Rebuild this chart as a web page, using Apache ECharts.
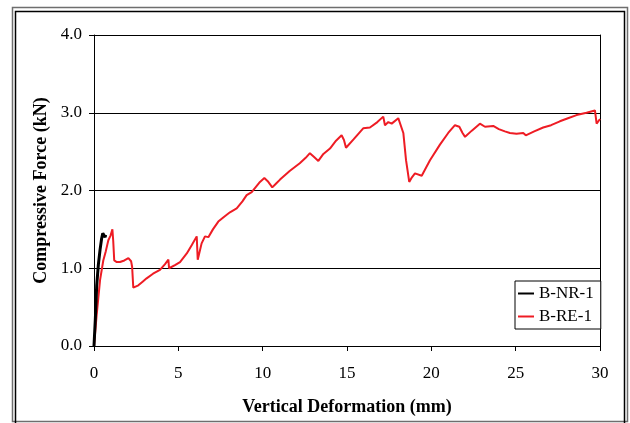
<!DOCTYPE html>
<html>
<head>
<meta charset="utf-8">
<script src="https://cdn.jsdelivr.net/npm/echarts@6/dist/echarts.min.js"></script>
<style>
  html, body { margin: 0; padding: 0; background: #fff; }
  #chart { width: 630px; height: 423px; }
</style>
</head>
<body>
<div id="chart"></div>
<script>
// Load–deformation curves: [deformation (mm), force (kN)]
const seriesNames = ['B-NR-1', 'B-RE-1'];

const bnr1 = [
  [0, 0], [0.08, 0.35], [0.16, 0.78], [0.26, 1.05], [0.36, 1.24],
  [0.45, 1.38], [0.52, 1.45], [0.58, 1.47], [0.62, 1.44], [0.66, 1.40], [0.69, 1.43]
];

const bre1 = [
  [0, 0], [0.15, 0.38], [0.36, 0.85], [0.55, 1.10], [0.7, 1.22], [0.85, 1.36],
  [0.98, 1.42], [1.09, 1.50], [1.14, 1.35], [1.2, 1.10], [1.35, 1.08], [1.54, 1.08],
  [1.8, 1.10], [2.04, 1.13], [2.2, 1.09], [2.26, 1.02], [2.33, 0.75], [2.63, 0.78],
  [2.9, 0.83], [3.12, 0.87], [3.5, 0.93], [3.91, 0.98], [4.2, 1.05], [4.41, 1.11],
  [4.45, 1.00], [4.8, 1.04], [5.1, 1.08], [5.5, 1.19], [5.8, 1.30], [6.09, 1.41],
  [6.15, 1.11], [6.38, 1.32], [6.58, 1.41], [6.78, 1.40], [7.05, 1.50], [7.37, 1.60],
  [7.7, 1.66], [8.06, 1.72], [8.46, 1.77], [8.8, 1.86], [9.05, 1.94], [9.35, 1.98],
  [9.84, 2.11], [10.1, 2.16], [10.3, 2.12], [10.57, 2.04], [10.8, 2.09], [11.03, 2.14],
  [11.6, 2.25], [12.2, 2.35], [12.55, 2.42], [12.8, 2.48], [13.05, 2.43], [13.3, 2.38],
  [13.6, 2.47], [13.99, 2.54], [14.35, 2.64], [14.68, 2.71], [14.82, 2.65], [14.94, 2.55],
  [15.4, 2.66], [15.96, 2.80], [16.36, 2.81], [16.8, 2.88], [17.15, 2.95], [17.25, 2.84],
  [17.45, 2.88], [17.65, 2.86], [18.04, 2.93], [18.14, 2.92], [18.34, 2.74], [18.5, 2.39],
  [18.69, 2.11], [18.85, 2.17], [19.03, 2.22], [19.43, 2.19], [19.92, 2.39], [20.51, 2.59],
  [21.0, 2.74], [21.4, 2.84], [21.66, 2.82], [21.85, 2.74], [22.0, 2.69], [22.4, 2.77],
  [22.88, 2.86], [23.18, 2.82], [23.67, 2.83], [24.0, 2.79], [24.36, 2.76], [24.66, 2.74],
  [25.05, 2.73], [25.45, 2.74], [25.6, 2.71], [26.1, 2.76], [26.63, 2.81], [27.1, 2.84],
  [27.62, 2.89], [28.1, 2.93], [28.61, 2.97], [29.2, 3.00], [29.7, 3.03], [29.8, 2.86],
  [30.0, 2.92]
];

const xTicks = { min: 0, max: 30, interval: 5 };
const yTicks = { min: 0, max: 4, interval: 1 };

const serif = '"Liberation Serif", "Times New Roman", serif';
const chart = echarts.init(document.getElementById('chart'), null, { renderer: 'canvas' });

chart.setOption({
  animation: false,
  backgroundColor: '#fff',
  grid: { left: 94, right: 30, top: 35, bottom: 77 },
  graphic: [
    { type: 'rect', shape: { x: 12.5, y: 7.5, width: 615, height: 414 },
      style: { fill: 'none', stroke: '#6e6e6e', lineWidth: 1.5 } },
    { type: 'rect', shape: { x: 15.5, y: 11.5, width: 609, height: 420 },
      style: { fill: 'none', stroke: '#000', lineWidth: 1.5 } }
  ],
  legend: {
    data: seriesNames,
    orient: 'vertical',
    left: 515, top: 281,
    padding: [4, 7, 4, 3],
    itemGap: 6,
    itemWidth: 16, itemHeight: 2,
    icon: 'rect',
    backgroundColor: '#fff',
    borderColor: '#000', borderWidth: 1,
    textStyle: { fontFamily: serif, fontSize: 17, color: '#000', padding: [0, 0, 0, 0] }
  },
  xAxis: {
    type: 'value',
    min: xTicks.min, max: xTicks.max, interval: xTicks.interval,
    name: 'Vertical Deformation (mm)',
    nameLocation: 'middle', nameGap: 52,
    nameTextStyle: { fontFamily: serif, fontSize: 18, fontWeight: 'bold', color: '#000' },
    axisLine: { lineStyle: { color: '#000', width: 1 } },
    axisTick: { inside: false, length: 5, lineStyle: { color: '#000' } },
    axisLabel: { fontFamily: serif, fontSize: 17, color: '#000', margin: 19 },
    splitLine: { show: false }
  },
  yAxis: [{
    type: 'value',
    min: yTicks.min, max: yTicks.max, interval: yTicks.interval,
    name: 'Compressive Force (kN)',
    nameLocation: 'middle', nameGap: 44,
    nameTextStyle: { fontFamily: serif, fontSize: 18, fontWeight: 'bold', color: '#000' },
    axisLine: { show: true, lineStyle: { color: '#000', width: 1 } },
    axisTick: { show: true, inside: false, length: 5, lineStyle: { color: '#000' } },
    axisLabel: { fontFamily: serif, fontSize: 17, color: '#000', margin: 12,
      formatter: v => v.toFixed(1) },
    splitLine: { show: true, lineStyle: { color: '#000', width: 1 } }
  }, {
    type: 'value', position: 'right',
    min: yTicks.min, max: yTicks.max,
    axisLine: { show: true, onZero: false, lineStyle: { color: '#000', width: 1 } },
    axisTick: { show: false }, axisLabel: { show: false }, splitLine: { show: false }
  }],
  series: [
    { name: seriesNames[1], type: 'line', data: bre1, symbol: 'none',
      lineStyle: { color: '#ee1c24', width: 2 }, itemStyle: { color: '#ee1c24' }, z: 2 },
    { name: seriesNames[0], type: 'line', data: bnr1, symbol: 'none',
      lineStyle: { color: '#000', width: 3 }, itemStyle: { color: '#000' }, z: 3 }
  ]
});
</script>
</body>
</html>
